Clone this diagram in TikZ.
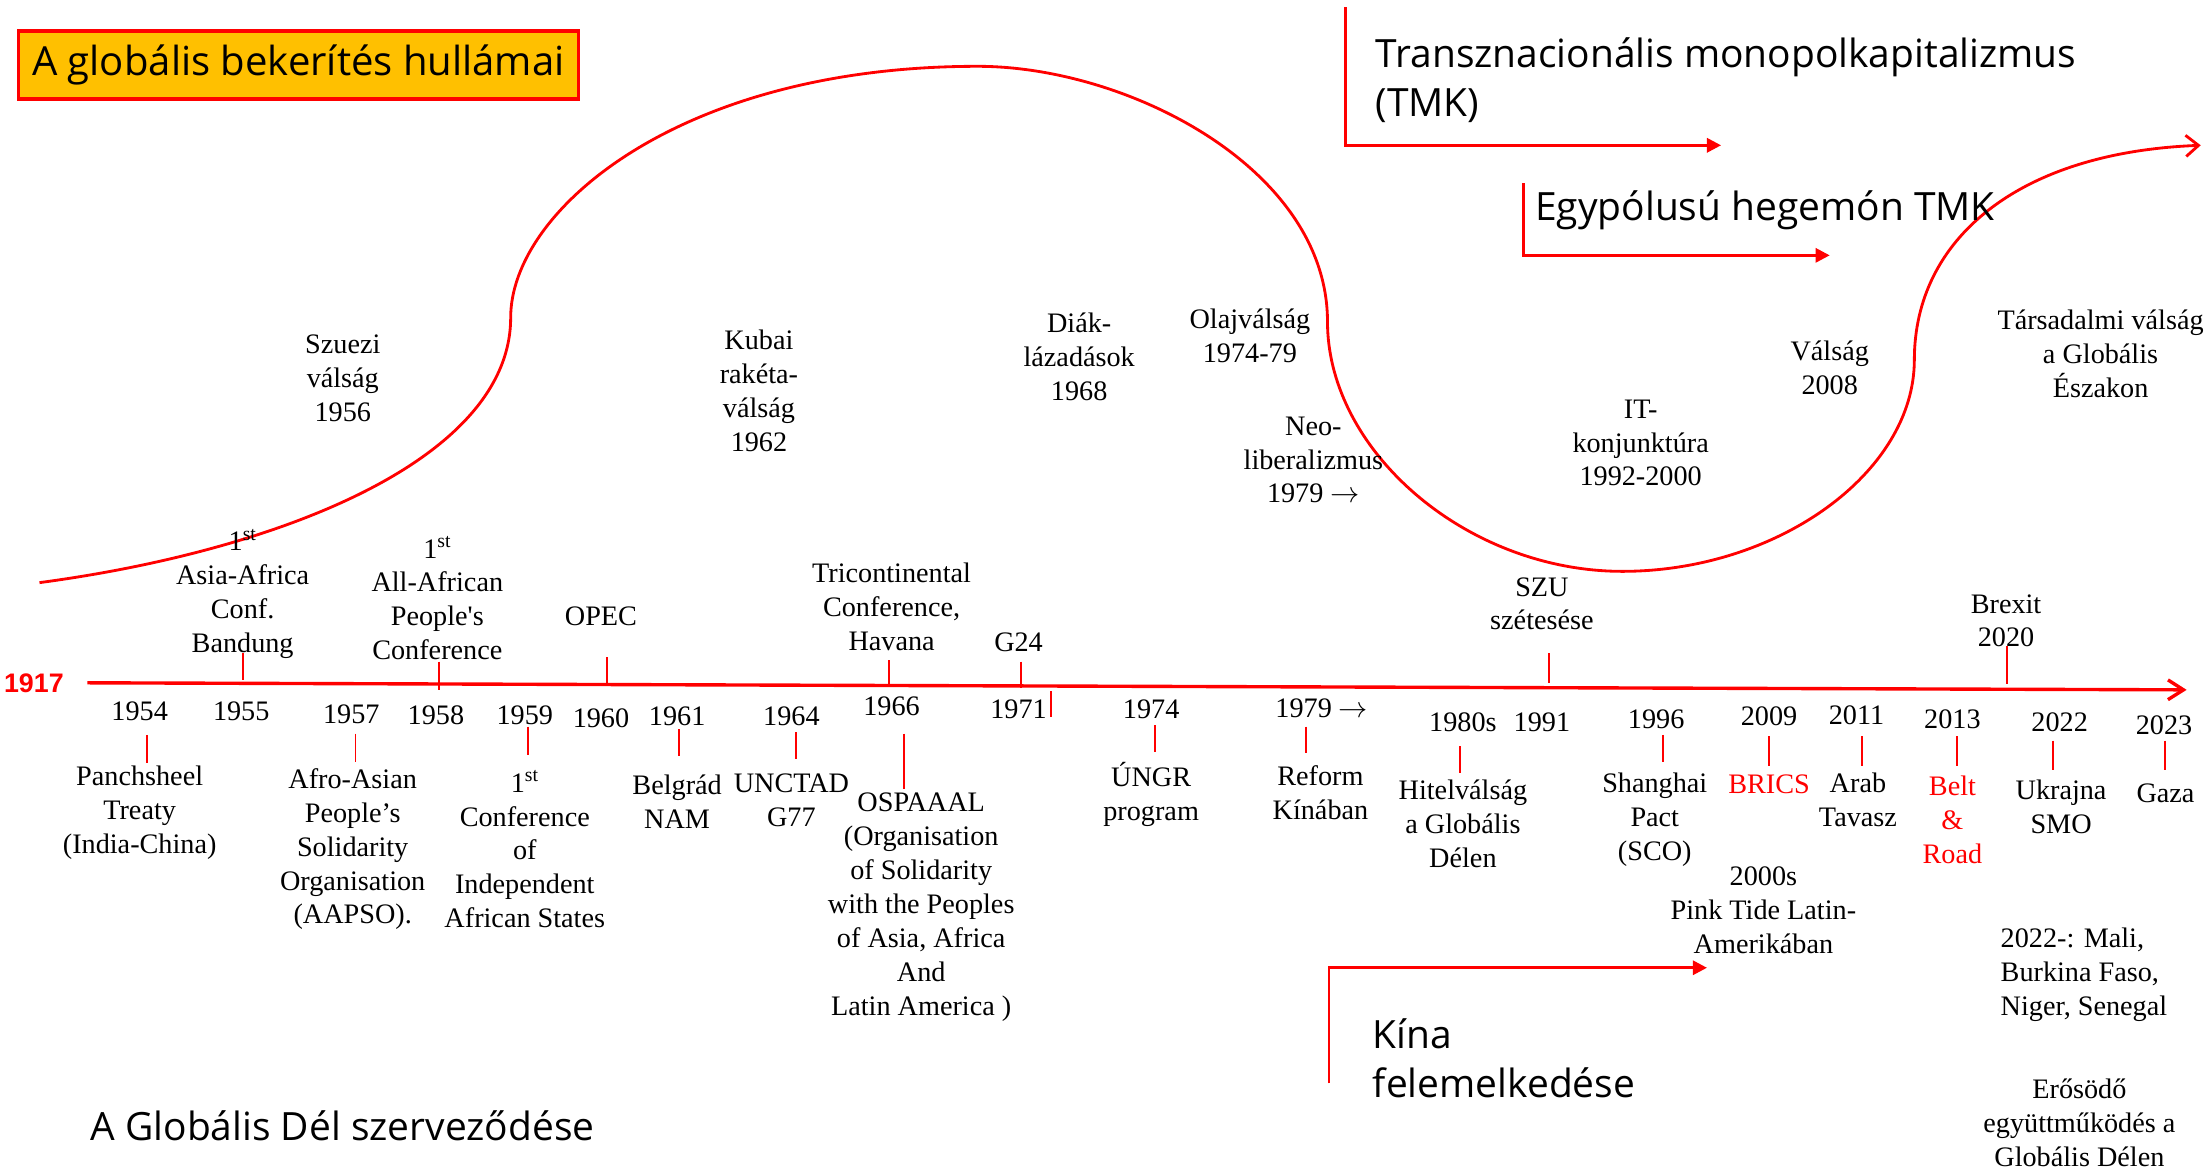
\documentclass[tikz,border=0pt]{standalone}
\usepackage{fontspec}
\usepackage{tikz}
\usetikzlibrary{arrows.meta}
\setmainfont{Liberation Serif}
\newfontfamily\headsans{Open Sans}
\newfontfamily\yearsans{Liberation Sans}

\definecolor{wavered}{RGB}{255,0,0}
\definecolor{titlegold}{RGB}{255,192,0}

\tikzset{
  event/.style={align=center, inner sep=0pt, font=\fontsize{20}{24}\selectfont},
  redevent/.style={event, text=wavered},
  heading/.style={align=left, inner sep=0pt, anchor=west, font=\headsans\fontsize{27.6}{35}\selectfont},
  tickmark/.style={draw=wavered, line width=1.4pt},
  bracket/.style={draw=wavered, line width=2pt, -{Triangle[length=10pt,width=10pt]}},
  wave/.style={draw=wavered, line width=2pt, -{Straight Barb[length=9pt,width=15pt]}},
  axis/.style={draw=wavered, line width=2.4pt, -{Straight Barb[length=11pt,width=14pt]}},
}

\begin{document}
\begin{tikzpicture}[x=1pt, y=1pt]
  \useasboundingbox (0,0) rectangle (1568,-833);

  % Title box
  \node[draw=wavered, line width=2.5pt, fill=titlegold, minimum width=397pt, minimum height=48pt,
        inner sep=0pt, font=\headsans\fontsize{28.4}{32}\selectfont] (title) at (211.5,-46) {A globális bekerítés hullámai};

  % The big wave
  \coordinate (w0) at (28,-413);
  \coordinate (w1) at (362,-225);
  \coordinate (w2) at (693,-47);
  \coordinate (w3) at (941,-228);
  \coordinate (w4) at (1150,-405);
  \coordinate (w5) at (1357,-255);
  \coordinate (w6) at (1560,-103);
  \draw[wave] (w0) .. controls (200,-390) and (362,-325) .. (w1)
    .. controls (362,-150) and (480,-47) .. (w2)
    .. controls (800,-47) and (941,-120) .. (w3)
    .. controls (941,-320) and (1040,-405) .. (w4)
    .. controls (1260,-405) and (1357,-335) .. (w5)
    .. controls (1357,-170) and (1430,-108) .. (w6);

  % Events on the wave
  \node[event] (suez) at (243,-268) {Szuezi\\válság\\1956};
  \node[event] (kuba) at (538,-277) {Kubai\\rakéta-\\válság\\1962};
  \node[event] (diak) at (765,-253) {Diák-\\lázadások\\1968};
  \node[event] (olaj) at (886,-238) {Olajválság\\1974-79};
  \node[event] (neolib) at (931,-326) {Neo-\\liberalizmus\\1979 $\rightarrow$};
  \node[event] (itkonj) at (1163,-314) {IT-\\konjunktúra\\1992-2000};
  \node[event] (valsag) at (1297,-261) {Válság\\2008};
  \node[event] (tarsad) at (1489,-251) {Társadalmi válság\\a Globális\\Északon};

  % Periods
  \node[heading] (tmk) at (975,-57) {Transznacionális monopolkapitalizmus\\(TMK)};
  \coordinate (tmktop) at (954,-5);
  \coordinate (tmkend) at (1220,-103);
  \draw[bracket] (tmktop) |- (tmkend);

  \node[heading] (hegemon) at (1088,-149) {Egypólusú hegemón TMK};
  \coordinate (hegtop) at (1080,-130);
  \coordinate (hegend) at (1297,-181);
  \draw[bracket] (hegtop) |- (hegend);

  \node[heading] (kina) at (973,-750) {Kína\\felemelkedése};
  \coordinate (kinabot) at (942,-768);
  \coordinate (kinaend) at (1210,-686);
  \draw[bracket] (kinabot) |- (kinaend);

  \node[heading] (gdel) at (64,-798) {A Globális Dél szerveződése};

  % Time axis
  \coordinate (ax0) at (62,-484);
  \coordinate (ax1) at (1550,-489);
  \draw[axis] (ax0) -- (ax1);
  \node[inner sep=0pt, text=wavered, font=\yearsans\bfseries\fontsize{19}{22}\selectfont] (start) at (24,-484) {1917};

  % Above the axis
  \node[event] (bandung) at (172,-421) {1\textsuperscript{st}\\Asia-Africa\\Conf.\\Bandung};
  \node[event] (aapc) at (310,-424) {1\textsuperscript{st}\\All-African\\People\textquotesingle s\\Conference};
  \node[event] (opec) at (426,-437) {OPEC};
  \node[event] (tricon) at (632,-430) {Tricontinental\\Conference,\\Havana};
  \node[event] (gtf) at (722,-455) {G24};
  \node[event] (szu) at (1093,-428) {SZU\\szétesése};
  \node[event] (brexit) at (1422,-440) {Brexit\\2020};

  % Years
  \node[event] (y1954) at (99,-504) {1954};
  \node[event] (y1955) at (171,-504) {1955};
  \node[event] (y1957) at (249,-506) {1957};
  \node[event] (y1958) at (309,-507) {1958};
  \node[event] (y1959) at (372,-507) {1959};
  \node[event] (y1960) at (426,-509) {1960};
  \node[event] (y1961) at (480,-508) {1961};
  \node[event] (y1964) at (561,-508) {1964};
  \node[event] (y1966) at (632,-501) {1966};
  \node[event] (y1971) at (722,-503) {1971};
  \node[event] (y1974) at (816,-503) {1974};
  \node[event] (y1979) at (937,-502) {1979 $\rightarrow$};
  \node[event] (y1980) at (1037,-512) {1980s};
  \node[event] (y1991) at (1093,-512) {1991};
  \node[event] (y1996) at (1174,-510) {1996};
  \node[event] (y2009) at (1254,-508) {2009};
  \node[event] (y2011) at (1316,-507) {2011};
  \node[event] (y2013) at (1384,-510) {2013};
  \node[event] (y2022) at (1460,-512) {2022};
  \node[event] (y2023) at (1534,-514) {2023};

  % Below the axis
  \node[event] (pansh) at (99,-576) {Panchsheel\\Treaty\\(India-China)};
  \node[event] (aapso) at (250,-602) {Afro-Asian\\People’s\\Solidarity\\Organisation\\(AAPSO).};
  \node[event] (cias) at (372,-602) {1\textsuperscript{st}\\Conference\\of\\Independent\\African States};
  \node[event] (nam) at (480,-568) {Belgrád\\NAM};
  \node[event] (unctad) at (561,-567) {UNCTAD\\G77};
  \node[event] (ospaaal) at (653,-643) {OSPAAAL\\(Organisation\\of Solidarity\\with the Peoples\\of Asia, Africa\\And\\Latin America )};
  \node[event] (ungr) at (816,-563) {ÚNGR\\program};
  \node[event] (reform) at (936,-562) {Reform\\Kínában};
  \node[event] (hitel) at (1037,-584) {Hitelválság\\a Globális\\Délen};
  \node[event] (sco) at (1173,-581) {Shanghai\\Pact\\(SCO)};
  \node[redevent] (brics) at (1254,-556) {BRICS};
  \node[event] (arab) at (1317,-567) {Arab\\Tavasz};
  \node[redevent] (belt) at (1384,-581) {Belt\\\&\\Road};
  \node[event] (ukr) at (1461,-572) {Ukrajna\\SMO};
  \node[event] (gaza) at (1535,-562) {Gaza};
  \node[event] (pink) at (1250,-645) {2000s\\Pink Tide Latin-\\Amerikában};
  \node[event, align=left, anchor=west] (sahel) at (1418,-691) {2022-: Mali,\\Burkina Faso,\\Niger, Senegal};
  \node[event] (erosodo) at (1474,-796) {Erősödő\\együttműködés a\\Globális Délen};

  % Tick marks
  \draw[tickmark] (172,-463) -- (172,-482) (311,-469) -- (311,-489) (430,-466) -- (430,-485)
    (630,-468) -- (630,-486) (724,-469) -- (724,-488) (1098,-463) -- (1098,-484) (1423,-458) -- (1423,-485);
  \draw[tickmark] (104,-521) -- (104,-541) (252,-520) -- (252,-540) (374,-515) -- (374,-535)
    (481,-517) -- (481,-536) (564,-519) -- (564,-538) (641,-520) -- (641,-559) (745,-490) -- (745,-508)
    (819,-514) -- (819,-533) (926,-515) -- (926,-534) (1035,-529) -- (1035,-548) (1179,-521) -- (1179,-540)
    (1254,-522) -- (1254,-543) (1320,-522) -- (1320,-543) (1387,-522) -- (1387,-543)
    (1455,-525) -- (1455,-546) (1535,-525) -- (1535,-546);
\end{tikzpicture}
\end{document}
